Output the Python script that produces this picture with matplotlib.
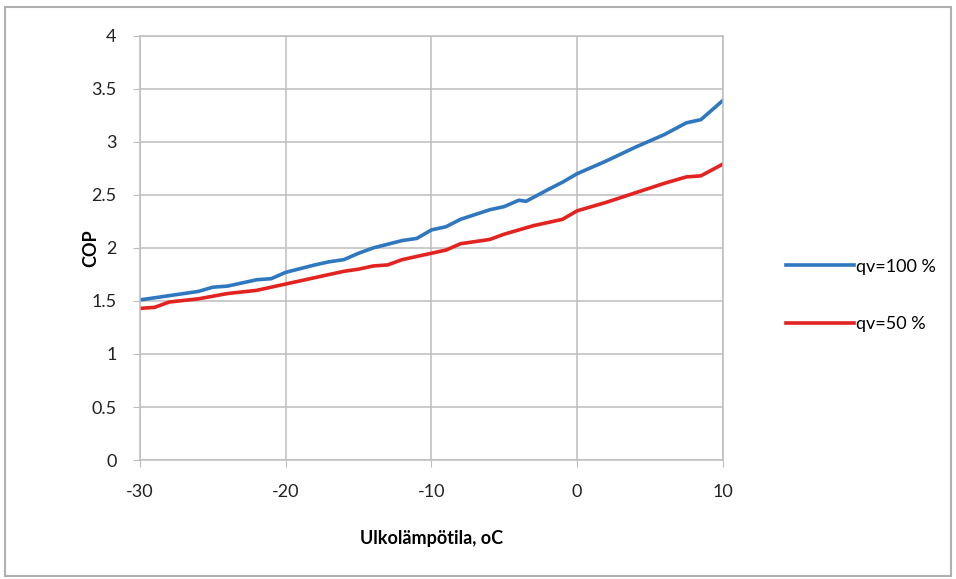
import matplotlib.pyplot as plt
from matplotlib.patches import Rectangle

# Data
temp_100 = [-30, -28, -26, -25, -24, -22, -21, -20, -18, -17, -16, -15, -14, -12, -11, -10,
            -9, -8, -6, -5, -4, -3.5, -2, -1, 0, 2, 4, 6, 7.5, 8.5, 10]
cop_100 = [1.51, 1.55, 1.59, 1.63, 1.64, 1.70, 1.71, 1.77, 1.84, 1.87, 1.89, 1.95, 2.00, 2.07, 2.09, 2.17,
           2.20, 2.27, 2.36, 2.39, 2.45, 2.44, 2.55, 2.62, 2.70, 2.82, 2.95, 3.07, 3.18, 3.21, 3.39]

temp_50 = [-30, -29, -28, -26, -24, -22, -20, -18, -16, -15, -14, -13, -12, -10, -9, -8, -7, -6,
           -5, -4, -3, -2, -1, 0, 2, 4, 6, 7.5, 8.5, 10]
cop_50 = [1.43, 1.44, 1.49, 1.52, 1.57, 1.60, 1.66, 1.72, 1.78, 1.80, 1.83, 1.84, 1.89, 1.95, 1.98, 2.04, 2.06, 2.08,
          2.13, 2.17, 2.21, 2.24, 2.27, 2.35, 2.43, 2.52, 2.61, 2.67, 2.68, 2.79]

plt.rcParams['font.family'] = ['Lato', 'DejaVu Sans']
plt.rcParams['axes.unicode_minus'] = False

fig = plt.figure(figsize=(9.56, 5.79), dpi=100)
ax = fig.add_axes([0.1465, 0.2055, 0.6095, 0.7325])

# outer frame
fig.patches.append(Rectangle((0.005, 0.005), 0.99, 0.983, transform=fig.transFigure,
                             fill=False, edgecolor='#b0b0b0', linewidth=1.5))

ax.plot(temp_100, cop_100, color='#2f77bf', linewidth=2.6, label='qv=100 %')
ax.plot(temp_50, cop_50, color='#e2231f', linewidth=2.6, label='qv=50 %')

ax.set_xlim(-30, 10)
ax.set_ylim(0, 4)
ax.set_xticks([-30, -20, -10, 0, 10])
ax.set_yticks([0, 0.5, 1, 1.5, 2, 2.5, 3, 3.5, 4])
ax.set_yticklabels(['0', '0.5', '1', '1.5', '2', '2.5', '3', '3.5', '4'])
ax.grid(True, color='#bdbdbd', linewidth=1.1)
ax.set_axisbelow(True)
for s in ax.spines.values():
    s.set_color('#bdbdbd')
    s.set_linewidth(1.1)
ax.tick_params(axis='both', labelsize=13, length=5, color='#bdbdbd', colors='#222222')
ax.tick_params(axis='x', pad=12)
ax.tick_params(axis='y', pad=12)

ax.set_xlabel('Ulkolämpötila, oC', fontsize=13, fontweight='bold', labelpad=22)
ax.set_ylabel('COP', fontsize=13, fontweight='bold')
ax.yaxis.set_label_coords(-0.07, 0.5)

fig.legend(loc='center left', bbox_to_anchor=(0.805, 0.49), frameon=False, fontsize=13,
           handlelength=3.8, handletextpad=0.1, labelspacing=2.3)

fig.savefig('out.png', dpi=100)
